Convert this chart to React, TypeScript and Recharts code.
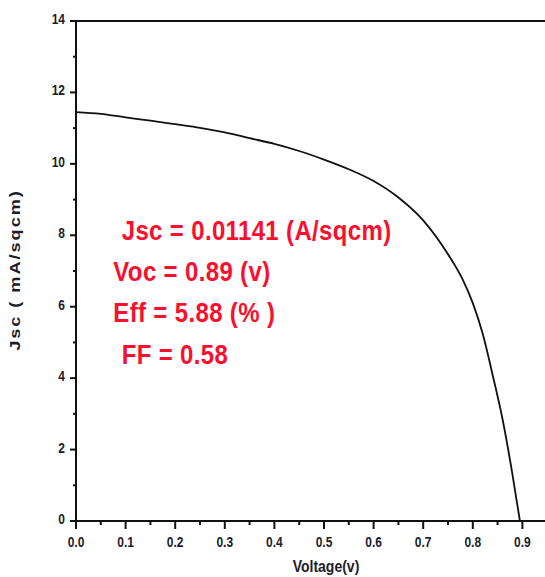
import { LineChart, Line, XAxis, YAxis, ReferenceLine } from 'recharts';

// J-V curve
const VOLTAGE = [0, 0.05, 0.1, 0.15, 0.2, 0.25, 0.3, 0.35, 0.4, 0.45, 0.5, 0.55, 0.6, 0.65, 0.7, 0.75, 0.78, 0.8, 0.82, 0.84, 0.86, 0.88, 0.895];
const JSC = [11.45, 11.4, 11.3, 11.21, 11.11, 11.01, 10.88, 10.72, 10.56, 10.36, 10.12, 9.85, 9.52, 9.06, 8.42, 7.47, 6.75, 6.1, 5.24, 4.09, 2.85, 1.3, 0];

const X_TICKS = [0, 0.05, 0.1, 0.15, 0.2, 0.25, 0.3, 0.35, 0.4, 0.45, 0.5, 0.55, 0.6, 0.65, 0.7, 0.75, 0.8, 0.85, 0.9, 0.95, 1.0];
const Y_TICKS = [0, 1, 2, 3, 4, 5, 6, 7, 8, 9, 10, 11, 12, 13, 14];

const RESULTS = ['Jsc = 0.01141 (A/sqcm)', 'Voc = 0.89 (v)', 'Eff = 5.88 (% )', 'FF = 0.58'];

const data = VOLTAGE.map((v, i) => ({ v, j: JSC[i] }));

const AXIS = '#111';
const TICK_FONT = {
  fontFamily: '"Liberation Sans", Arial, sans-serif',
  fontWeight: 700,
  fontSize: 12,
  fill: '#1c1c2a',
};

function XTick({ x, y, payload }: any) {
  const v = payload.value;
  const major = Math.abs(v * 10 - Math.round(v * 10)) < 1e-6;
  return (
    <g>
      <line x1={x} x2={x} y1={y} y2={y + (major ? 8 : 4)} stroke={AXIS} strokeWidth={2} />
      {major && v < 0.99 && (
        <text x={x} y={y + 26} textAnchor="middle" transform={`translate(0 ${-(y + 26) * 0.15}) scale(1 1.15)`} style={TICK_FONT}>
          {v.toFixed(1)}
        </text>
      )}
    </g>
  );
}

function YTick({ x, y, payload }: any) {
  const v = payload.value;
  const major = v % 2 === 0;
  return (
    <g>
      <line x1={x - (major ? 6 : 3)} x2={x} y1={y} y2={y} stroke={AXIS} strokeWidth={2} />
      {major && (
        <text x={x - 11} y={y + 3} textAnchor="end" transform={`translate(0 ${-(y + 3) * 0.15}) scale(1 1.15)`} style={TICK_FONT}>
          {v}
        </text>
      )}
    </g>
  );
}

const RED = '#f8102e';
const LINES = [
  { x: 121.7, y: 239.5 },
  { x: 113.3, y: 280.5 },
  { x: 113.3, y: 322 },
  { x: 121.7, y: 363.7 },
];

export default function App() {
  return (
    <div
      style={{
        position: 'absolute',
        left: 0,
        top: 0,
        width: 545,
        height: 577,
        overflow: 'hidden',
        background: '#fff',
      }}
    >
      <LineChart width={572} height={577} data={data} margin={{ top: 21, right: 0, bottom: 0, left: 0 }}>
        <XAxis
          dataKey="v"
          type="number"
          domain={[0, 1]}
          ticks={X_TICKS}
          interval={0}
          height={56}
          tickSize={0}
          tickMargin={0}
          tickLine={false}
          axisLine={{ stroke: AXIS, strokeWidth: 2 }}
          tick={<XTick />}
        />
        <YAxis
          type="number"
          domain={[0, 14]}
          ticks={Y_TICKS}
          interval={0}
          width={76}
          tickSize={0}
          tickMargin={0}
          tickLine={false}
          axisLine={{ stroke: AXIS, strokeWidth: 2 }}
          tick={<YTick />}
        />
        <ReferenceLine y={14} stroke={AXIS} strokeWidth={2} />
        <Line
          type="monotone"
          dataKey="j"
          stroke="#111"
          strokeWidth={1.8}
          dot={false}
          isAnimationActive={false}
        />
      </LineChart>
      <svg
        width={545}
        height={577}
        style={{ position: 'absolute', left: 0, top: 0, pointerEvents: 'none' }}
      >
        {RESULTS.map((t, i) => (
          <text
            key={t}
            transform={`translate(${LINES[i].x} ${LINES[i].y}) scale(1 1.15)`}
            style={{
              fontFamily: '"Liberation Sans", Arial, sans-serif',
              fontWeight: 700,
              fontSize: 24,
              letterSpacing: 0.35,
              fill: RED,
            }}
          >
            {t}
          </text>
        ))}
        <text
          transform="translate(20 270) rotate(-90) scale(1.3 1)"
          textAnchor="middle"
          style={{
            fontFamily: '"Liberation Sans", Arial, sans-serif',
            fontWeight: 700,
            fontSize: 14,
            letterSpacing: 1.5,
            fill: '#1c1c2a',
          }}
        >
          Jsc ( mA/sqcm)
        </text>
        <text
          transform="translate(326 572) scale(1 1.2)"
          textAnchor="middle"
          style={{
            fontFamily: '"Liberation Sans", Arial, sans-serif',
            fontWeight: 700,
            fontSize: 14,
            fill: '#1c1c2a',
          }}
        >
          Voltage(v)
        </text>
      </svg>
    </div>
  );
}
